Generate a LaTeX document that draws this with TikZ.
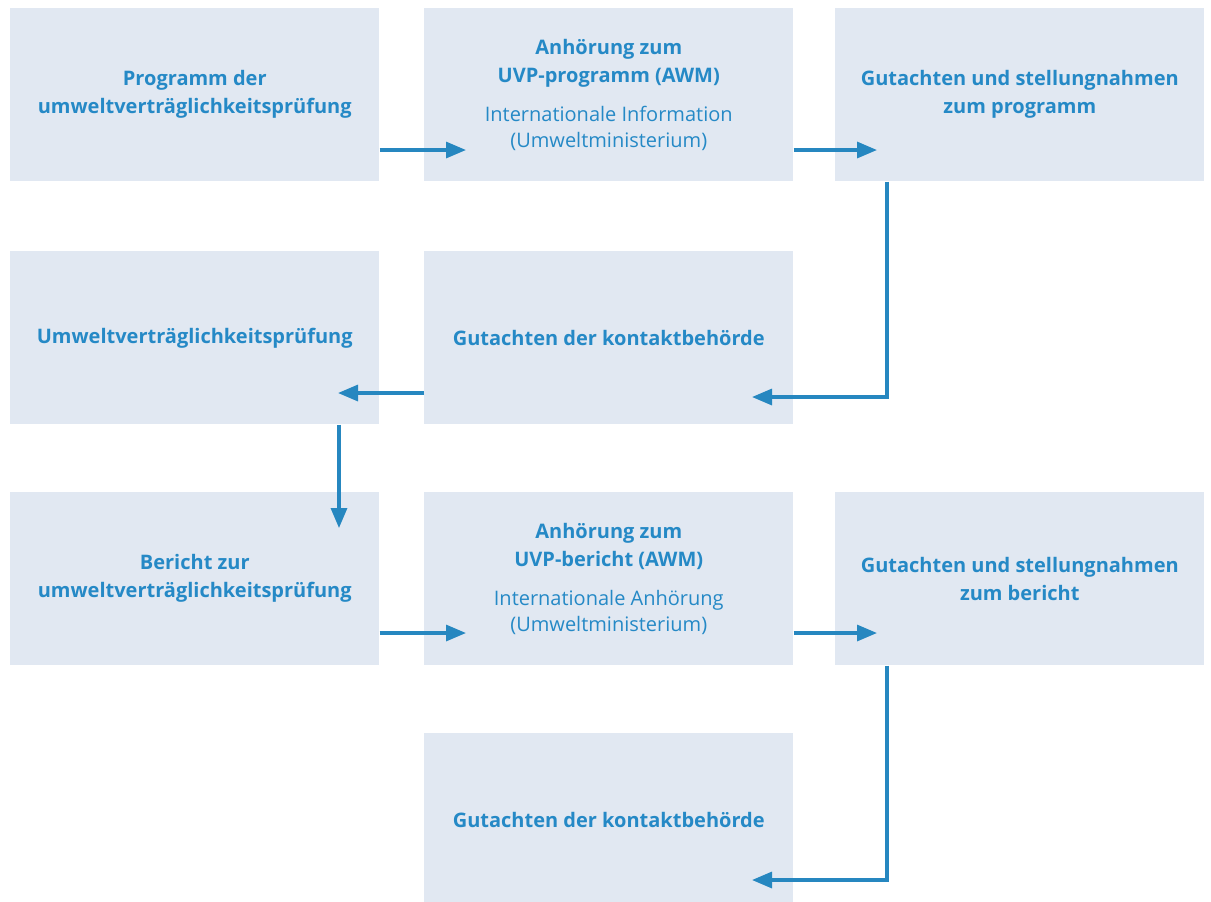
\documentclass[tikz,border=0pt]{standalone}
\usepackage{fontspec}
\setmainfont{Open Sans}
\usetikzlibrary{arrows.meta}
\definecolor{boxfill}{HTML}{E1E8F2}
\definecolor{txtblue}{HTML}{2589C6}
\definecolor{arrblue}{HTML}{2687C0}
\tikzset{
  box/.style={fill=boxfill, draw=none, minimum width=276.75pt, minimum height=129.75pt, inner sep=0pt, anchor=north west, text=txtblue, align=center, font=\fontsize{15}{21}\selectfont\bfseries},
  sub/.style={},
  flow/.style={draw=arrblue, line width=2.4pt, -{Triangle[length=15pt,width=12pt]}}
}
\newcommand{\subtxt}[1]{{\mdseries\fontsize{15}{19.5}\selectfont #1}}
\begin{document}
\begin{tikzpicture}[x=0.75pt,y=-0.75pt]
\useasboundingbox (0,0) rectangle (1211,901);
\node[box] (A) at (10,8) {Programm der\\umweltverträglichkeitsprüfung};
\node[box] (B) at (424,8) {Anhörung zum\\UVP-programm (AWM)\\[8pt]\subtxt{Internationale Information}\\[-1.5pt]\subtxt{(Umweltministerium)}};
\node[box] (C) at (835,8) {Gutachten und stellungnahmen\\zum programm};
\node[box] (D) at (10,251) {Umweltverträglichkeitsprüfung};
\node[box] (E) at (424,251) {Gutachten der kontaktbehörde};
\node[box] (F) at (10,492) {Bericht zur\\umweltverträglichkeitsprüfung};
\node[box] (G) at (424,492) {Anhörung zum\\UVP-bericht (AWM)\\[8pt]\subtxt{Internationale Anhörung}\\[-1.5pt]\subtxt{(Umweltministerium)}};
\node[box] (H) at (835,492) {Gutachten und stellungnahmen\\zum bericht};
\node[box] (I) at (424,733) {Gutachten der kontaktbehörde};
\coordinate (t1) at (466,150);
\coordinate (t2) at (877,150);
\coordinate (c1) at (887,397);
\coordinate (t3) at (752,397);
\coordinate (t4) at (338,393);
\coordinate (t5) at (339,528);
\coordinate (t6) at (466,633);
\coordinate (t7) at (877,633);
\coordinate (c2) at (887,880);
\coordinate (t8) at (752,880);
\draw[flow] (A.east |- t1) -- (t1);
\draw[flow] (B.east |- t2) -- (t2);
\draw[flow] (C.south -| c1) -- (c1) -- (t3);
\draw[flow] (E.west |- t4) -- (t4);
\draw[flow] (D.south -| t5) -- (t5);
\draw[flow] (F.east |- t6) -- (t6);
\draw[flow] (G.east |- t7) -- (t7);
\draw[flow] (H.south -| c2) -- (c2) -- (t8);
\end{tikzpicture}
\end{document}
